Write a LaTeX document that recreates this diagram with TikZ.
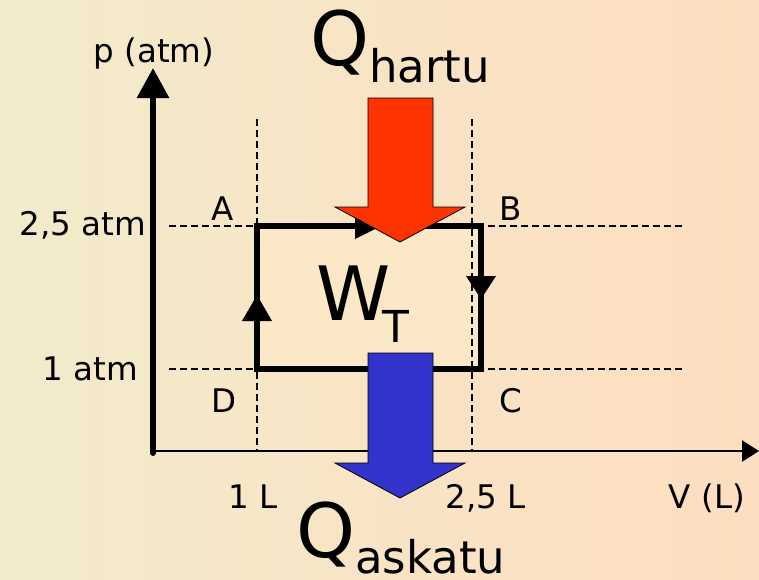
\documentclass[tikz,border=0pt]{standalone}
\usepackage{fontspec}
\setmainfont{DejaVu Sans}
\usetikzlibrary{arrows.meta}
\definecolor{bgleft}{HTML}{F2EBCB}
\definecolor{bgright}{HTML}{FDDEC0}
\definecolor{cyclefill}{HTML}{FAE8C6}
\definecolor{hotred}{HTML}{FF3300}
\definecolor{coldblue}{HTML}{3333CC}
\tikzset{
  lbl/.style={font=\fontsize{32.5}{38}\selectfont, inner sep=0pt},
  guide/.style={line width=1.4pt, dash pattern=on 7pt off 4pt},
  heatarrow/.style={draw=black, line width=0.8pt, line join=miter},
  big/.style={inner sep=0pt, anchor=base west, font=\fontsize{75}{80}\selectfont},
  cycleline/.style={line width=6.5pt, line join=miter},
}
\begin{document}
\begin{tikzpicture}[x=1pt,y=-1pt]
\useasboundingbox (0,0) rectangle (759,579);
\shade[left color=bgleft,right color=bgright] (0,0) rectangle (759,579);

% cycle corners
\coordinate (A) at (257,226);
\coordinate (B) at (481,226);
\coordinate (C) at (481,369);
\coordinate (D) at (257,369);

\fill[cyclefill] (A) rectangle (C);

% guide lines
\coordinate (hAl) at (169,226); \coordinate (hAr) at (682,226);
\coordinate (hDl) at (169,369); \coordinate (hDr) at (682,369);
\coordinate (v1t) at (257,119); \coordinate (v1b) at (257,451);
\coordinate (v2t) at (472,119); \coordinate (v2b) at (472,451);
\draw[guide] (hAl) -- (hAr);
\draw[guide] (hDl) -- (hDr);
\draw[guide] (v1t) -- (v1b);
\draw[guide] (v2t) -- (v2b);

% cycle
\draw[cycleline] (A) -- (B) -- (C) -- (D) -- cycle;
\fill (381,226) -- (355,213) -- (355,239) -- cycle;
\fill (481,299) -- (466,276) -- (496,276) -- cycle;
\fill (257,295) -- (242,321) -- (272,321) -- cycle;

% axes
\coordinate (O) at (153,451);
\coordinate (Obot) at (153,453);
\coordinate (ptop) at (153,68);
\coordinate (vend) at (759,451);
\draw[line width=6pt, line cap=round, -{Triangle[length=30pt,width=31pt]}] (Obot) -- (ptop);
\draw[line width=2.6pt, -{Triangle[length=17pt,width=21pt]}] (O) -- (vend);

% heat arrows
\filldraw[heatarrow, fill=hotred] (368,98) -- (433,98) -- (433,207) -- (465,207) -- (400,242) -- (335,207) -- (368,207) -- cycle;
\filldraw[heatarrow, fill=coldblue] (368,353) -- (433,353) -- (433,463) -- (465,463) -- (400,498) -- (335,463) -- (368,463) -- cycle;

% labels
\node[lbl, anchor=base] (plabel) at (154,62) {p (atm)};
\node[lbl, anchor=base east] (p25) at (146,235) {2,5 atm};
\node[lbl, anchor=base east] (p1) at (138,380) {1 atm};
\node[lbl, anchor=base] (lA) at (223,220) {A};
\node[lbl, anchor=base] (lB) at (511,220) {B};
\node[lbl, anchor=base] (lC) at (511,412) {C};
\node[lbl, anchor=base] (lD) at (224,412) {D};
\node[lbl, anchor=base] (v1) at (253,508) {1 L};
\node[lbl, anchor=base] (v25) at (486,508) {2,5 L};
\node[lbl, anchor=base] (vlabel) at (707,508) {V (L)};

\node[big] (qh) at (310,65) {Q\raisebox{-17pt}{\fontsize{45}{48}\selectfont hartu}};
\node[big] (qa) at (296,557) {Q\raisebox{-16pt}{\fontsize{45}{48}\selectfont askatu}};
\node[big] (wt) at (316,320) {W\kern-8pt\raisebox{-22pt}{\fontsize{44}{48}\selectfont T}};
\end{tikzpicture}
\end{document}
